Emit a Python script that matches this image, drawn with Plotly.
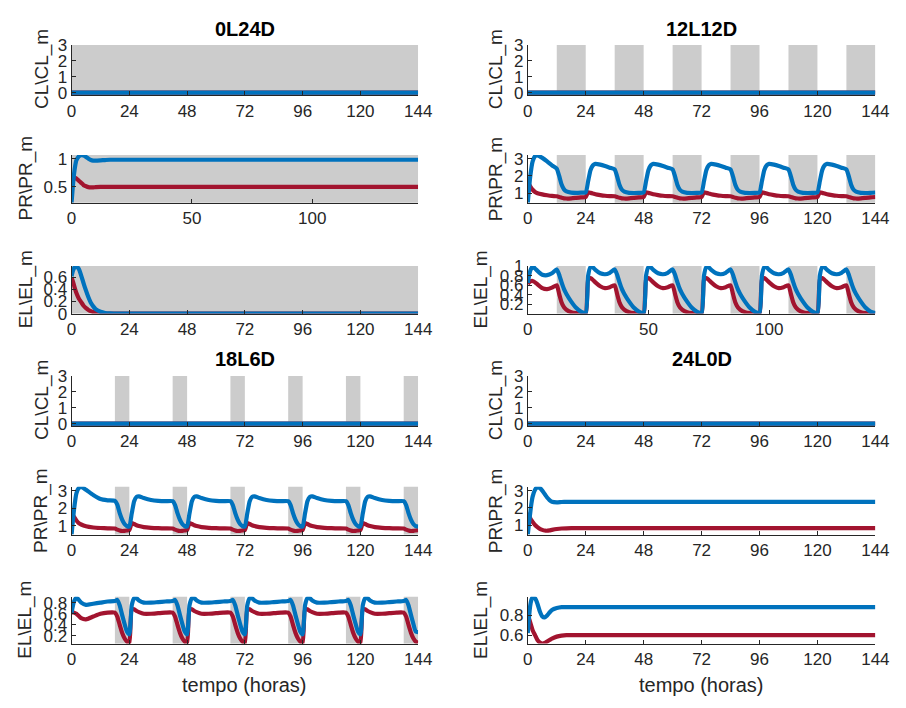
import plotly.graph_objects as go

# ---------------- data ----------------
conditions = ["0L24D", "12L12D", "18L6D", "24L0D"]
var_labels = ["CL\\CL_m", "PR\\PR_m", "EL\\EL_m"]
x_label = "tempo (horas)"

dark_0L24D = [(0, 144)]
dark_12L12D = [(12, 24), (36, 48), (60, 72), (84, 96), (108, 120), (132, 144)]
dark_18L6D = [(18, 24), (42, 48), (66, 72), (90, 96), (114, 120), (138, 144)]
dark_24L0D = []

ticks_days = [0, 24, 48, 72, 96, 120, 144]
ticks_auto = [0, 50, 100]

t_cl = [0, 144]
cl_blue = [0, 0]
cl_red = [0, 0]

t_tr = [0, 0.5, 1, 1.5, 2, 3, 4, 5, 6, 7, 8, 9, 10, 12, 14, 16, 20, 30, 144]

pr_0L24D_blue = [0.22, 0.5, 0.72, 0.87, 0.97, 1.04, 1.06, 1.055, 1.03, 1.0, 0.975, 0.965, 0.965, 0.97, 0.975, 0.98, 0.98, 0.98, 0.98]
pr_0L24D_red = [0.45, 0.6, 0.65, 0.66, 0.65, 0.61, 0.57, 0.53, 0.51, 0.495, 0.49, 0.49, 0.495, 0.5, 0.5, 0.5, 0.5, 0.5, 0.5]
el_0L24D_blue = [0.62, 0.7, 0.75, 0.78, 0.78, 0.74, 0.63, 0.5, 0.38, 0.27, 0.18, 0.12, 0.075, 0.03, 0.01, 0.004, 0.0, 0.0, 0.0]
el_0L24D_red = [0.6, 0.54, 0.47, 0.4, 0.34, 0.25, 0.19, 0.13, 0.09, 0.06, 0.04, 0.025, 0.015, 0.005, 0.0, 0.0, 0.0, 0.0, 0.0]

pr_24L0D_blue = [0.45, 1.1, 1.7, 2.25, 2.65, 3.05, 3.2, 3.15, 3.0, 2.8, 2.6, 2.45, 2.35, 2.32, 2.34, 2.35, 2.35, 2.35, 2.35]
pr_24L0D_red = [1.7, 1.55, 1.4, 1.28, 1.18, 1.0, 0.88, 0.78, 0.72, 0.68, 0.67, 0.69, 0.72, 0.77, 0.8, 0.81, 0.82, 0.82, 0.82]
el_24L0D_blue = [0.62, 0.78, 0.9, 0.96, 0.985, 0.975, 0.92, 0.84, 0.79, 0.78, 0.8, 0.83, 0.855, 0.875, 0.885, 0.885, 0.885, 0.885, 0.885]
el_24L0D_red = [0.8, 0.77, 0.73, 0.69, 0.65, 0.6, 0.55, 0.525, 0.515, 0.52, 0.535, 0.55, 0.565, 0.585, 0.595, 0.6, 0.6, 0.6, 0.6]

t_12 = [0, 1, 2, 3, 4, 6, 8, 10, 12, 13, 14, 15, 16, 18, 20, 22,
        24, 25, 26, 27, 28, 30, 32, 34, 36, 37, 38, 39, 40, 42, 44, 46,
        48, 49, 50, 51, 52, 54, 56, 58, 60, 61, 62, 63, 64, 66, 68, 70,
        72, 73, 74, 75, 76, 78, 80, 82, 84, 85, 86, 87, 88, 90, 92, 94,
        96, 97, 98, 99, 100, 102, 104, 106, 108, 109, 110, 111, 112, 114, 116, 118,
        120, 121, 122, 123, 124, 126, 128, 130, 132, 133, 134, 135, 136, 138, 140, 142,
        144]
pr_12L12D_blue = [0.45, 1.95, 2.85, 3.15, 3.2, 3.05, 2.85, 2.62, 2.42, 2.0, 1.5, 1.22, 1.1, 1.03, 1.02, 1.03,
                  1.05, 1.7, 2.35, 2.62, 2.7, 2.66, 2.58, 2.48, 2.38, 1.98, 1.48, 1.2, 1.09, 1.02, 1.01, 1.02,
                  1.05, 1.7, 2.35, 2.62, 2.7, 2.66, 2.58, 2.48, 2.38, 1.98, 1.48, 1.2, 1.09, 1.02, 1.01, 1.02,
                  1.05, 1.7, 2.35, 2.62, 2.7, 2.66, 2.58, 2.48, 2.38, 1.98, 1.48, 1.2, 1.09, 1.02, 1.01, 1.02,
                  1.05, 1.7, 2.35, 2.62, 2.7, 2.66, 2.58, 2.48, 2.38, 1.98, 1.48, 1.2, 1.09, 1.02, 1.01, 1.02,
                  1.05, 1.7, 2.35, 2.62, 2.7, 2.66, 2.58, 2.48, 2.38, 1.98, 1.48, 1.2, 1.09, 1.02, 1.01, 1.02,
                  1.04]
pr_12L12D_red = [1.65, 1.4, 1.2, 1.07, 1.0, 0.93, 0.88, 0.84, 0.82, 0.78, 0.73, 0.7, 0.69, 0.7, 0.73, 0.76,
                 0.78, 1.05, 1.02, 0.98, 0.94, 0.89, 0.85, 0.83, 0.82, 0.78, 0.73, 0.7, 0.69, 0.7, 0.73, 0.76,
                 0.78, 1.05, 1.02, 0.98, 0.94, 0.89, 0.85, 0.83, 0.82, 0.78, 0.73, 0.7, 0.69, 0.7, 0.73, 0.76,
                 0.78, 1.05, 1.02, 0.98, 0.94, 0.89, 0.85, 0.83, 0.82, 0.78, 0.73, 0.7, 0.69, 0.7, 0.73, 0.76,
                 0.78, 1.05, 1.02, 0.98, 0.94, 0.89, 0.85, 0.83, 0.82, 0.78, 0.73, 0.7, 0.69, 0.7, 0.73, 0.76,
                 0.78, 1.05, 1.02, 0.98, 0.94, 0.89, 0.85, 0.83, 0.82, 0.78, 0.73, 0.7, 0.69, 0.7, 0.73, 0.76,
                 0.78]
el_12L12D_blue = [0.65, 0.9, 0.99, 0.95, 0.9, 0.82, 0.81, 0.85, 0.93, 0.82, 0.66, 0.52, 0.42, 0.26, 0.13, 0.05,
                  0.02, 0.8, 0.98, 0.97, 0.92, 0.85, 0.83, 0.86, 0.93, 0.82, 0.66, 0.52, 0.42, 0.26, 0.13, 0.05,
                  0.02, 0.8, 0.98, 0.97, 0.92, 0.85, 0.83, 0.86, 0.93, 0.82, 0.66, 0.52, 0.42, 0.26, 0.13, 0.05,
                  0.02, 0.8, 0.98, 0.97, 0.92, 0.85, 0.83, 0.86, 0.93, 0.82, 0.66, 0.52, 0.42, 0.26, 0.13, 0.05,
                  0.02, 0.8, 0.98, 0.97, 0.92, 0.85, 0.83, 0.86, 0.93, 0.82, 0.66, 0.52, 0.42, 0.26, 0.13, 0.05,
                  0.02, 0.8, 0.98, 0.97, 0.92, 0.85, 0.83, 0.86, 0.93, 0.82, 0.66, 0.52, 0.42, 0.26, 0.13, 0.05,
                  0.02]
el_12L12D_red = [0.63, 0.68, 0.69, 0.66, 0.62, 0.54, 0.52, 0.55, 0.6, 0.42, 0.24, 0.14, 0.09, 0.04, 0.02, 0.01,
                 0.01, 0.72, 0.75, 0.71, 0.66, 0.58, 0.54, 0.56, 0.6, 0.42, 0.24, 0.14, 0.09, 0.04, 0.02, 0.01,
                 0.01, 0.72, 0.75, 0.71, 0.66, 0.58, 0.54, 0.56, 0.6, 0.42, 0.24, 0.14, 0.09, 0.04, 0.02, 0.01,
                 0.01, 0.72, 0.75, 0.71, 0.66, 0.58, 0.54, 0.56, 0.6, 0.42, 0.24, 0.14, 0.09, 0.04, 0.02, 0.01,
                 0.01, 0.72, 0.75, 0.71, 0.66, 0.58, 0.54, 0.56, 0.6, 0.42, 0.24, 0.14, 0.09, 0.04, 0.02, 0.01,
                 0.01, 0.72, 0.75, 0.71, 0.66, 0.58, 0.54, 0.56, 0.6, 0.42, 0.24, 0.14, 0.09, 0.04, 0.02, 0.01,
                 0.01]

t_18 = [0, 1, 2, 3, 4, 6, 9, 12, 15, 18, 19, 20, 21, 22, 23,
        24, 25, 26, 27, 28, 30, 33, 36, 39, 42, 43, 44, 45, 46, 47,
        48, 49, 50, 51, 52, 54, 57, 60, 63, 66, 67, 68, 69, 70, 71,
        72, 73, 74, 75, 76, 78, 81, 84, 87, 90, 91, 92, 93, 94, 95,
        96, 97, 98, 99, 100, 102, 105, 108, 111, 114, 115, 116, 117, 118, 119,
        120, 121, 122, 123, 124, 126, 129, 132, 135, 138, 139, 140, 141, 142, 143,
        144]
pr_18L6D_blue = [0.5, 1.9, 2.85, 3.15, 3.22, 3.05, 2.75, 2.52, 2.45, 2.42, 2.2, 1.72, 1.35, 1.1, 0.98,
                 0.95, 1.7, 2.4, 2.65, 2.68, 2.58, 2.47, 2.42, 2.4, 2.4, 2.18, 1.72, 1.35, 1.1, 0.98,
                 0.95, 1.7, 2.4, 2.65, 2.68, 2.58, 2.47, 2.42, 2.4, 2.4, 2.18, 1.72, 1.35, 1.1, 0.98,
                 0.95, 1.7, 2.4, 2.65, 2.68, 2.58, 2.47, 2.42, 2.4, 2.4, 2.18, 1.72, 1.35, 1.1, 0.98,
                 0.95, 1.7, 2.4, 2.65, 2.68, 2.58, 2.47, 2.42, 2.4, 2.4, 2.18, 1.72, 1.35, 1.1, 0.98,
                 0.95, 1.7, 2.4, 2.65, 2.68, 2.58, 2.47, 2.42, 2.4, 2.4, 2.18, 1.72, 1.35, 1.1, 0.98,
                 0.95]
pr_18L6D_red = [1.75, 1.5, 1.3, 1.15, 1.07, 0.97, 0.9, 0.87, 0.85, 0.84, 0.78, 0.73, 0.7, 0.71, 0.73,
                0.75, 1.15, 1.1, 1.03, 0.98, 0.92, 0.88, 0.86, 0.85, 0.84, 0.78, 0.73, 0.7, 0.71, 0.73,
                0.75, 1.15, 1.1, 1.03, 0.98, 0.92, 0.88, 0.86, 0.85, 0.84, 0.78, 0.73, 0.7, 0.71, 0.73,
                0.75, 1.15, 1.1, 1.03, 0.98, 0.92, 0.88, 0.86, 0.85, 0.84, 0.78, 0.73, 0.7, 0.71, 0.73,
                0.75, 1.15, 1.1, 1.03, 0.98, 0.92, 0.88, 0.86, 0.85, 0.84, 0.78, 0.73, 0.7, 0.71, 0.73,
                0.75, 1.15, 1.1, 1.03, 0.98, 0.92, 0.88, 0.86, 0.85, 0.84, 0.78, 0.73, 0.7, 0.71, 0.73,
                0.75]
el_18L6D_blue = [0.62, 0.82, 0.89, 0.85, 0.8, 0.76, 0.78, 0.8, 0.82, 0.83, 0.85, 0.75, 0.58, 0.42, 0.28,
                 0.23, 0.75, 0.88, 0.88, 0.84, 0.8, 0.8, 0.81, 0.82, 0.83, 0.85, 0.75, 0.58, 0.42, 0.28,
                 0.23, 0.75, 0.88, 0.88, 0.84, 0.8, 0.8, 0.81, 0.82, 0.83, 0.85, 0.75, 0.58, 0.42, 0.28,
                 0.23, 0.75, 0.88, 0.88, 0.84, 0.8, 0.8, 0.81, 0.82, 0.83, 0.85, 0.75, 0.58, 0.42, 0.28,
                 0.23, 0.75, 0.88, 0.88, 0.84, 0.8, 0.8, 0.81, 0.82, 0.83, 0.85, 0.75, 0.58, 0.42, 0.28,
                 0.23, 0.75, 0.88, 0.88, 0.84, 0.8, 0.8, 0.81, 0.82, 0.83, 0.85, 0.75, 0.58, 0.42, 0.28,
                 0.27]
el_18L6D_red = [0.63, 0.62, 0.6, 0.56, 0.52, 0.5, 0.55, 0.6, 0.62, 0.62, 0.55, 0.4, 0.26, 0.16, 0.1,
                0.07, 0.68, 0.68, 0.65, 0.63, 0.6, 0.6, 0.61, 0.62, 0.62, 0.55, 0.4, 0.26, 0.16, 0.1,
                0.07, 0.68, 0.68, 0.65, 0.63, 0.6, 0.6, 0.61, 0.62, 0.62, 0.55, 0.4, 0.26, 0.16, 0.1,
                0.07, 0.68, 0.68, 0.65, 0.63, 0.6, 0.6, 0.61, 0.62, 0.62, 0.55, 0.4, 0.26, 0.16, 0.1,
                0.07, 0.68, 0.68, 0.65, 0.63, 0.6, 0.6, 0.61, 0.62, 0.62, 0.55, 0.4, 0.26, 0.16, 0.1,
                0.07, 0.68, 0.68, 0.65, 0.63, 0.6, 0.6, 0.61, 0.62, 0.62, 0.55, 0.4, 0.26, 0.16, 0.1,
                0.08]

# ---------------- style / layout ----------------
FONT = "Liberation Sans, Arial, sans-serif"
BLUE = "#0072BD"
RED = "#A2142F"
GRAY = "#CCCCCC"
AXC = "#262626"
W, H = 906, 708
COLS = [(68, 422), (534, 889)]
ROWS = [(37, 86), (150, 199), (264, 313), (377, 426), (491, 540), (604, 652)]
LW = 4.2

panels = [
    dict(c=0, r=0, t=t_cl, red=cl_red, blue=cl_blue, yr=[0, 3], yt=[0, 1, 2, 3], xt=ticks_days, dark=dark_0L24D, lx=38, cl=True),
    dict(c=0, r=1, t=t_tr, red=pr_0L24D_red, blue=pr_0L24D_blue, yr=[0.22, 1.065], yt=[0.5, 1], xt=ticks_auto, dark=dark_0L24D, lx=21),
    dict(c=0, r=2, t=t_tr, red=el_0L24D_red, blue=el_0L24D_blue, yr=[0, 0.79], yt=[0, 0.2, 0.4, 0.6], xt=ticks_days, dark=dark_0L24D, lx=21),
    dict(c=1, r=0, t=t_cl, red=cl_red, blue=cl_blue, yr=[0, 3], yt=[0, 1, 2, 3], xt=ticks_days, dark=dark_12L12D, lx=501, cl=True),
    dict(c=1, r=1, t=t_12, red=pr_12L12D_red, blue=pr_12L12D_blue, yr=[0.45, 3.22], yt=[1, 2, 3], xt=ticks_days, dark=dark_12L12D, lx=501),
    dict(c=1, r=2, t=t_12, red=el_12L12D_red, blue=el_12L12D_blue, yr=[0.01, 1.003], yt=[0.2, 0.4, 0.6, 0.8, 1], xt=ticks_auto, dark=dark_12L12D, lx=486),
    dict(c=0, r=3, t=t_cl, red=cl_red, blue=cl_blue, yr=[0, 3], yt=[0, 1, 2, 3], xt=ticks_days, dark=dark_18L6D, lx=38, cl=True),
    dict(c=0, r=4, t=t_18, red=pr_18L6D_red, blue=pr_18L6D_blue, yr=[0.5, 3.22], yt=[1, 2, 3], xt=ticks_days, dark=dark_18L6D, lx=36),
    dict(c=0, r=5, t=t_18, red=el_18L6D_red, blue=el_18L6D_blue, yr=[0.065, 0.905], yt=[0.2, 0.4, 0.6, 0.8], xt=ticks_days, dark=dark_18L6D, lx=21),
    dict(c=1, r=3, t=t_cl, red=cl_red, blue=cl_blue, yr=[0, 3], yt=[0, 1, 2, 3], xt=ticks_days, dark=dark_24L0D, lx=501, cl=True),
    dict(c=1, r=4, t=t_tr, red=pr_24L0D_red, blue=pr_24L0D_blue, yr=[0.45, 3.22], yt=[1, 2, 3], xt=ticks_days, dark=dark_24L0D, lx=501),
    dict(c=1, r=5, t=t_tr, red=el_24L0D_red, blue=el_24L0D_blue, yr=[0.515, 0.99], yt=[0.6, 0.8], xt=ticks_days, dark=dark_24L0D, lx=486),
]
row_var = [0, 1, 2, 0, 1, 2]

fig = go.Figure()
layout = dict(
    width=W, height=H, margin=dict(l=0, r=0, t=0, b=0, pad=0),
    paper_bgcolor="white", plot_bgcolor="white", showlegend=False,
    font=dict(family=FONT, size=17, color=AXC),
)
shapes = []
annotations = []

def fmt(v):
    return "%g" % v

for i, p in enumerate(panels, start=1):
    xa = "x" if i == 1 else f"x{i}"
    ya = "y" if i == 1 else f"y{i}"
    x0, x1 = COLS[p["c"]]
    top, bot = ROWS[p["r"]]
    yr = list(p["yr"])
    if p.get("cl"):
        ext = 2.5
        pxu = (bot - top) / (yr[1] - yr[0])
        yr = [yr[0] - ext / pxu, yr[1]]
        bot = bot + ext
    xdom = [x0 / W, x1 / W]
    ydom = [1 - bot / H, 1 - top / H]
    common = dict(showline=True, linecolor=AXC, linewidth=1, ticks="inside", ticklen=4,
                  tickwidth=1, tickcolor=AXC, showgrid=False, zeroline=False,
                  tickfont=dict(family=FONT, size=17, color=AXC), fixedrange=True)
    layout["xaxis" if i == 1 else f"xaxis{i}"] = dict(
        domain=xdom, range=[0, 144], anchor=ya, tickmode="array",
        tickvals=p["xt"], ticktext=[fmt(v) for v in p["xt"]], **common)
    layout["yaxis" if i == 1 else f"yaxis{i}"] = dict(
        domain=ydom, range=yr, anchor=xa, tickmode="array",
        tickvals=p["yt"], ticktext=[fmt(v) for v in p["yt"]], **common)
    for (d0, d1) in p["dark"]:
        if p.get("cl"):
            shapes.append(dict(type="rect", xref=xa, yref=ya, x0=d0, x1=d1, y0=0, y1=3,
                               fillcolor=GRAY, line=dict(width=0), layer="below"))
        else:
            shapes.append(dict(type="rect", xref=xa, yref=f"{ya} domain", x0=d0, x1=d1, y0=0, y1=1,
                               fillcolor=GRAY, line=dict(width=0), layer="below"))
    fig.add_trace(go.Scatter(x=p["t"], y=p["red"], mode="lines", xaxis=xa, yaxis=ya,
                             line=dict(color=RED, width=LW, shape="spline", smoothing=0.5),
                             hoverinfo="skip"))
    fig.add_trace(go.Scatter(x=p["t"], y=p["blue"], mode="lines", xaxis=xa, yaxis=ya,
                             line=dict(color=BLUE, width=LW, shape="spline", smoothing=0.5),
                             hoverinfo="skip"))
    tp, bt = ROWS[p["r"]]
    annotations.append(dict(text=var_labels[row_var[p["r"]]], xref="paper", yref="paper",
                            x=p["lx"] / W, y=1 - (tp + bt) / 2 / H, textangle=-90,
                            showarrow=False, xanchor="center", yanchor="middle",
                            font=dict(family=FONT, size=19, color=AXC)))

title_pos = [(0, 21), (1, 21), (0, 360), (1, 360)]
for name, (c, ypx) in zip(conditions, title_pos):
    x0, x1 = COLS[c]
    annotations.append(dict(text="<b>" + name + "</b>", xref="paper", yref="paper",
                            x=(x0 + x1) / 2 / W, y=1 - ypx / H, showarrow=False,
                            xanchor="center", yanchor="middle",
                            font=dict(family=FONT, size=20, color="black")))
for c in (0, 1):
    x0, x1 = COLS[c]
    annotations.append(dict(text=x_label, xref="paper", yref="paper",
                            x=(x0 + x1) / 2 / W, y=1 - 695 / H, showarrow=False,
                            xanchor="center", yanchor="middle",
                            font=dict(family=FONT, size=20, color=AXC)))

layout["shapes"] = shapes
layout["annotations"] = annotations
fig.update_layout(**layout)
fig.write_html("out.html", config={"displayModeBar": False})
